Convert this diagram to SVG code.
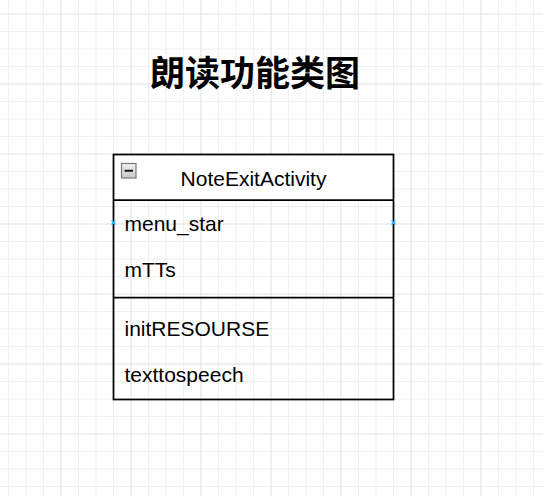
<svg xmlns="http://www.w3.org/2000/svg" width="543" height="496" viewBox="0 0 543 496">
  <style>
    .t { font-family: "Liberation Sans", Arial, sans-serif; font-size: 21px; fill: #000; }
    .title { font-family: "Noto Sans CJK SC", "Noto Sans", sans-serif; font-size: 35px; font-weight: bold; fill: #000; }
    .box { fill: none; stroke: #000; stroke-width: 1.75; }
    .sep { stroke: #000; stroke-width: 1.75; fill: none; }
    .hint { stroke: #29b6f2; stroke-width: 1.2; fill: none; }
  </style>
  <defs>
    <pattern id="grid" patternUnits="userSpaceOnUse" x="-10" y="13" width="70" height="70">
      <path d="M18.5 0V70M36 0V70M53.5 0V70M0 18.5H70M0 36H70M0 53.5H70" stroke="#f0f0f0" stroke-width="1" fill="none"/>
      <path d="M1 0V70M0 1H70" stroke="#e0e0e0" stroke-width="1" fill="none"/>
    </pattern>
    <linearGradient id="icon" x1="0" y1="0" x2="0" y2="1">
      <stop offset="0" stop-color="#f2f2f2"/>
      <stop offset="1" stop-color="#c8c8c8"/>
    </linearGradient>
  </defs>
  <rect x="0" y="0" width="543" height="496" fill="#ffffff"/>
  <rect x="0" y="0" width="543" height="496" fill="url(#grid)"/>

  <g id="title">
    <text class="title" x="255" y="86" text-anchor="middle">朗读功能类图</text>
  </g>

  <g id="NoteExitActivity">
    <rect x="113.5" y="154.5" width="280" height="45.5" fill="#fff"/>
    <rect class="box" x="113.5" y="154.5" width="280" height="245"/>
    <line class="sep" x1="113.5" y1="200" x2="393.5" y2="200"/>
    <line class="sep" x1="113.5" y1="297.5" x2="393.5" y2="297.5"/>
    <rect x="121.5" y="163.5" width="14.5" height="14.5" fill="url(#icon)" stroke="#7a7a7a" stroke-width="1.2"/>
    <line x1="124.5" y1="170.75" x2="133" y2="170.75" stroke="#1a1a1a" stroke-width="2"/>
    <text class="t" x="253.5" y="186" text-anchor="middle">NoteExitActivity</text>
    <text class="t" x="124.5" y="231">menu_star</text>
    <text class="t" x="124.5" y="277">mTTs</text>
    <text class="t" x="124.5" y="336">initRESOURSE</text>
    <text class="t" x="124.5" y="382">texttospeech</text>
    <path class="hint" d="M111.5 220.5l4 4M115.5 220.5l-4 4M391.5 220.5l4 4M395.5 220.5l-4 4"/>
  </g>

  <g id="connectors"></g>
</svg>
